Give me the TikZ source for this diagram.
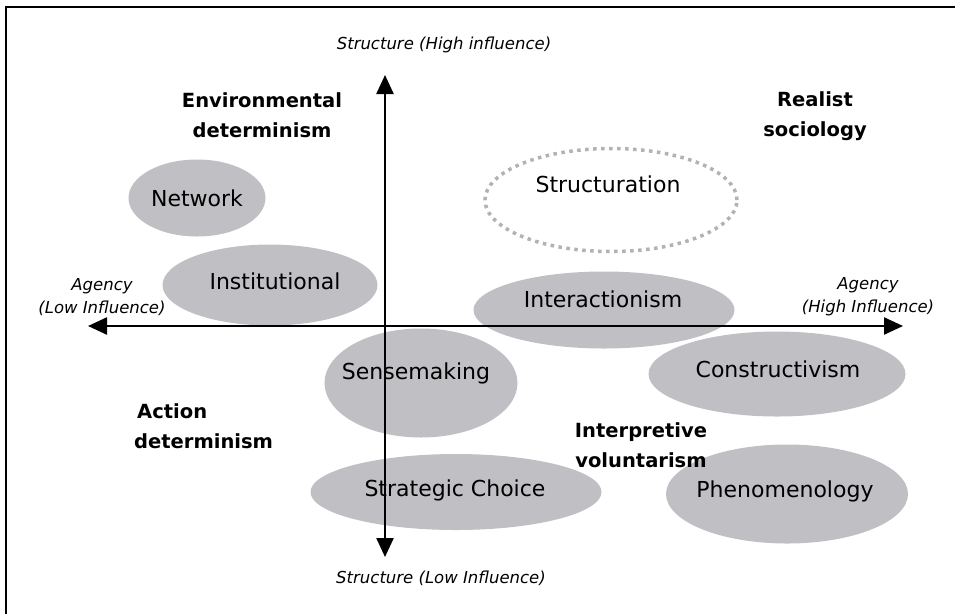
\documentclass[tikz,border=0pt]{standalone}
\usepackage{fontspec}
\setmainfont{DejaVu Sans}
\usetikzlibrary{shapes.geometric,arrows.meta}
\definecolor{ellgray}{RGB}{192,192,196}
\definecolor{dotgray}{RGB}{178,178,180}
\tikzset{
  ell/.style={ellipse, fill=ellgray, draw=none, inner sep=0pt},
  dotell/.style={ellipse, draw=dotgray, line width=3.5pt, dash pattern=on 3.5pt off 4.5pt, inner sep=0pt},
  lab/.style={font=\fontsize{22}{26}\selectfont, inner sep=0pt},
  bold/.style={font=\fontsize{19.5}{30}\selectfont\bfseries, inner sep=0pt, align=center},
  ital/.style={font=\fontsize{16.5}{23}\selectfont\itshape, inner sep=0pt, align=center},
  axis/.style={line width=2.4pt, {Triangle[length=19pt,width=17pt]}-{Triangle[length=19pt,width=17pt]}},
  frame/.style={line width=2.5pt}
}
\begin{document}
\begin{tikzpicture}[x=1pt,y=-1pt]
\useasboundingbox (0,0) rectangle (955,614);
% frame
\coordinate (fbl) at (6,614);
\coordinate (ftl) at (6,7);
\coordinate (ftr) at (955,7);
\draw[frame] (fbl) -- (ftl) -- (ftr);
% ellipses
\node[ell, minimum width=137pt, minimum height=77pt] (net) at (197,198) {};
\node[ell, minimum width=215pt, minimum height=81pt] (inst) at (270,285) {};
\node[dotell, minimum width=252pt, minimum height=103pt] (struc) at (611,200) {};
\node[ell, minimum width=261pt, minimum height=77pt] (inter) at (604,310) {};
\node[ell, minimum width=193pt, minimum height=109pt] (sense) at (421,383) {};
\node[ell, minimum width=257pt, minimum height=85pt] (cons) at (777,374) {};
\node[ell, minimum width=291pt, minimum height=76pt] (strat) at (456,492) {};
\node[ell, minimum width=242pt, minimum height=99pt] (phen) at (787,494) {};
% ellipse labels
\node[lab] (netT) at (197,198) {Network};
\node[lab] (instT) at (275,281) {Institutional};
\node[lab] (strucT) at (608,184) {Structuration};
\node[lab] (interT) at (603,299) {Interactionism};
\node[lab] (senseT) at (416,373) {Sensemaking};
\node[lab] (consT) at (778,369) {Constructivism};
\node[lab] (stratT) at (455,490) {Strategic Choice};
\node[lab] (phenT) at (785,491) {Phenomenology};
% axes
\coordinate (axL) at (88,326);
\coordinate (axR) at (903,326);
\coordinate (axT) at (385,75);
\coordinate (axB) at (385,557);
\draw[axis] (axL) -- (axR);
\draw[axis] (axB) -- (axT);
% bold labels
\node[bold] (env) at (262,115) {Environmental\\determinism};
\node[bold] (real) at (815,116) {Realist\\sociology};
\node[bold, align=left, anchor=west] (act) at (134,426) {\hspace*{3pt}Action\\determinism};
\node[bold] (interp) at (641,445) {Interpretive\\voluntarism};
% italic labels
\node[ital] (sHigh) at (444,45) {Structure (High influence)};
\node[ital] (sLow) at (441,578) {Structure (Low Influence)};
\node[ital] (aLow) at (102,297) {Agency\\(Low Influence)};
\node[ital] (aHigh) at (868,297) {Agency\\(High Influence)};
\end{tikzpicture}
\end{document}
